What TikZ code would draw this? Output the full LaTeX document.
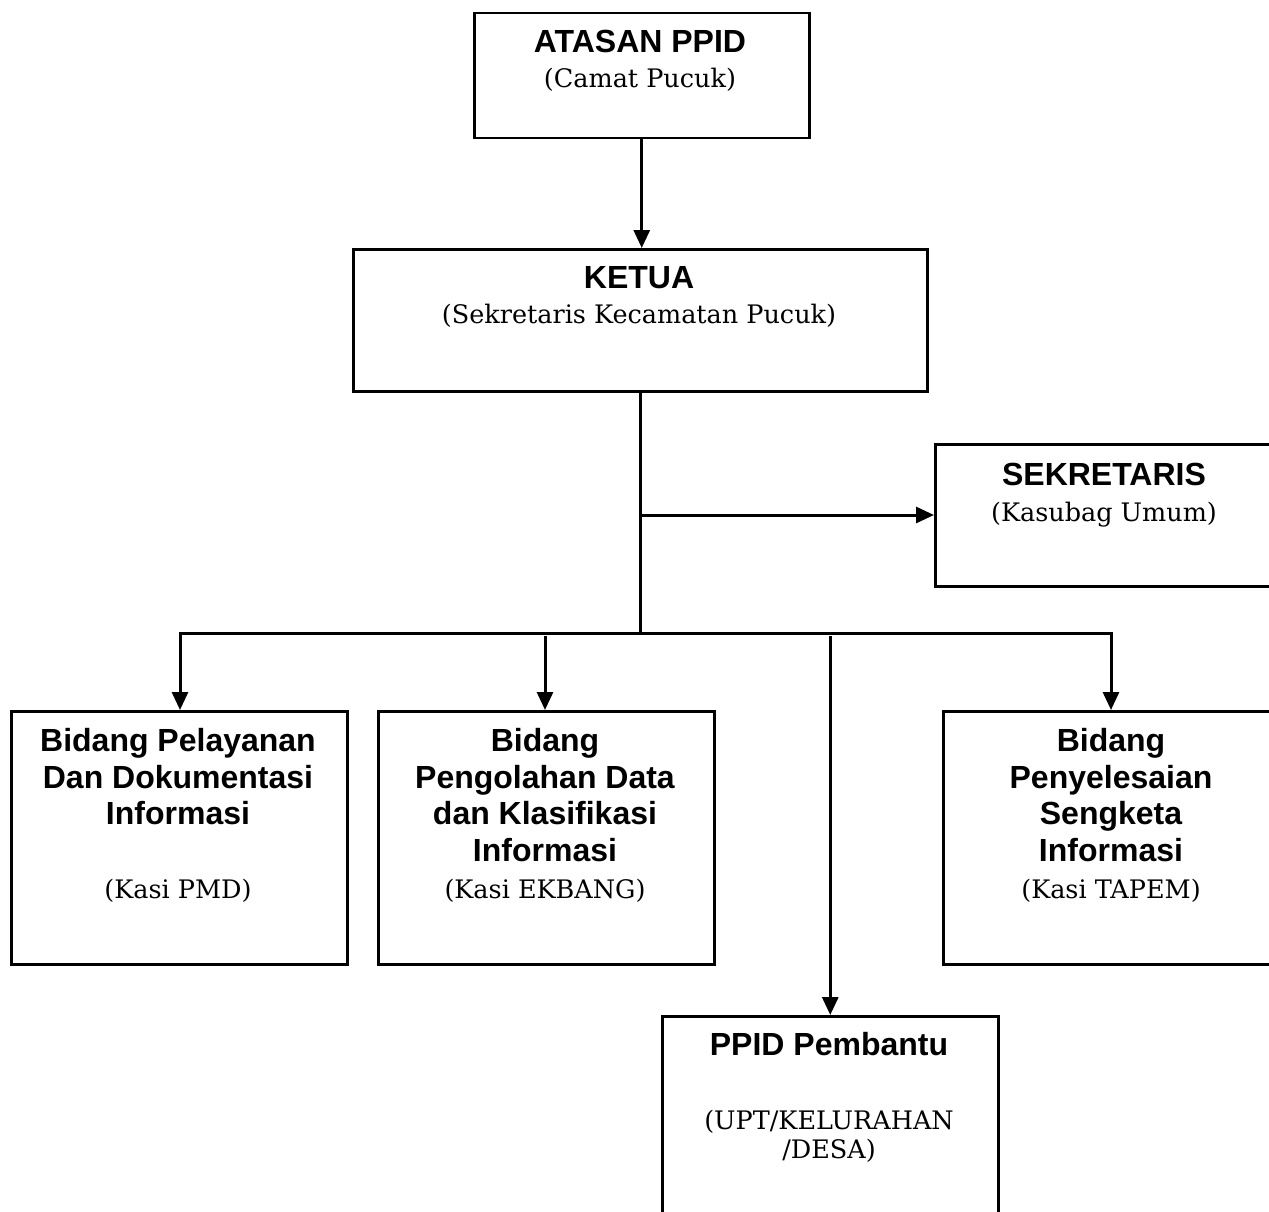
\documentclass[tikz,border=0pt]{standalone}
\usepackage{fontspec}
\newfontfamily\ttlfont{Liberation Sans}
\newfontfamily\subfont{DejaVu Serif}
\usetikzlibrary{arrows.meta}
\begin{document}
\begin{tikzpicture}[x=1pt,y=-1pt,
  box/.style={draw, line width=2.5pt, inner sep=0pt, anchor=north west},
  conn/.style={line width=3pt, -{Triangle[length=18pt,width=16pt]}},
  plain/.style={line width=3pt},
  ttl/.style={anchor=base, inner sep=0pt, font=\ttlfont\bfseries\fontsize{32}{36}\selectfont},
  sub/.style={anchor=base, inner sep=0pt, font=\subfont\fontsize{25.5}{29}\selectfont}]
\clip (0,0) rectangle (1269,1212);
\fill[white] (0,0) rectangle (1269,1212);

% boxes
\node[box, minimum width=335pt, minimum height=125pt] (atasan) at (473,12) {};
\node[box, minimum width=574pt, minimum height=142pt] (ketua) at (352,248) {};
\node[box, minimum width=340pt, minimum height=142pt] (sek) at (934,443) {};
\node[box, minimum width=336pt, minimum height=253pt] (b1) at (10,710) {};
\node[box, minimum width=336pt, minimum height=253pt] (b2) at (377,710) {};
\node[box, minimum width=338pt, minimum height=253pt] (b3) at (942,710) {};
\node[box, minimum width=336pt, minimum height=230pt] (ppid) at (661,1015) {};

% texts
\node[ttl] (t-atasan) at (640,53) {ATASAN PPID};
\node[sub] (s-atasan) at (640,88) {(Camat Pucuk)};

\node[ttl] (t-ketua) at (639,288) {KETUA};
\node[sub] (s-ketua) at (639,323) {(Sekretaris Kecamatan Pucuk)};

\node[ttl] (t-sek) at (1104,485) {SEKRETARIS};
\node[sub] (s-sek) at (1104,521) {(Kasubag Umum)};

\node[ttl] (t-b1a) at (178,751) {Bidang Pelayanan};
\node[ttl] (t-b1b) at (178,788) {Dan Dokumentasi};
\node[ttl] (t-b1c) at (178,824) {Informasi};
\node[sub] (s-b1) at (178,898) {(Kasi PMD)};

\node[ttl] (t-b2a) at (545,751) {Bidang};
\node[ttl] (t-b2b) at (545,788) {Pengolahan Data};
\node[ttl] (t-b2c) at (545,824) {dan Klasifikasi};
\node[ttl] (t-b2d) at (545,861) {Informasi};
\node[sub] (s-b2) at (545,898) {(Kasi EKBANG)};

\node[ttl] (t-b3a) at (1111,751) {Bidang};
\node[ttl] (t-b3b) at (1111,788) {Penyelesaian};
\node[ttl] (t-b3c) at (1111,824) {Sengketa};
\node[ttl] (t-b3d) at (1111,861) {Informasi};
\node[sub] (s-b3) at (1111,898) {(Kasi TAPEM)};

\node[ttl] (t-ppid) at (829,1055) {PPID Pembantu};
\node[sub] (s-ppid1) at (829,1129) {(UPT/KELURAHAN};
\node[sub] (s-ppid2) at (829,1158) {/DESA)};

% connectors
\coordinate (hub) at (640,633);
\coordinate (jsek) at (640,515);
\coordinate (hl) at (180,633);
\coordinate (hr) at (1111,633);

\draw[conn] (atasan.south) -- (atasan.south |- ketua.north);
\draw[plain] (ketua.south -| hub) -- (hub);
\draw[conn] (jsek) -- (sek.west |- jsek);
\draw[plain, line cap=rect] (hl) -- (hr);
\draw[conn] (hl) -- (hl |- b1.north);
\draw[conn] (545,636) -- (545,710) coordinate (b2top);
\draw[conn] (hr) -- (hr |- b3.north);
\draw[conn] (ppid.north |- 0,636) -- (ppid.north);
\end{tikzpicture}
\end{document}
